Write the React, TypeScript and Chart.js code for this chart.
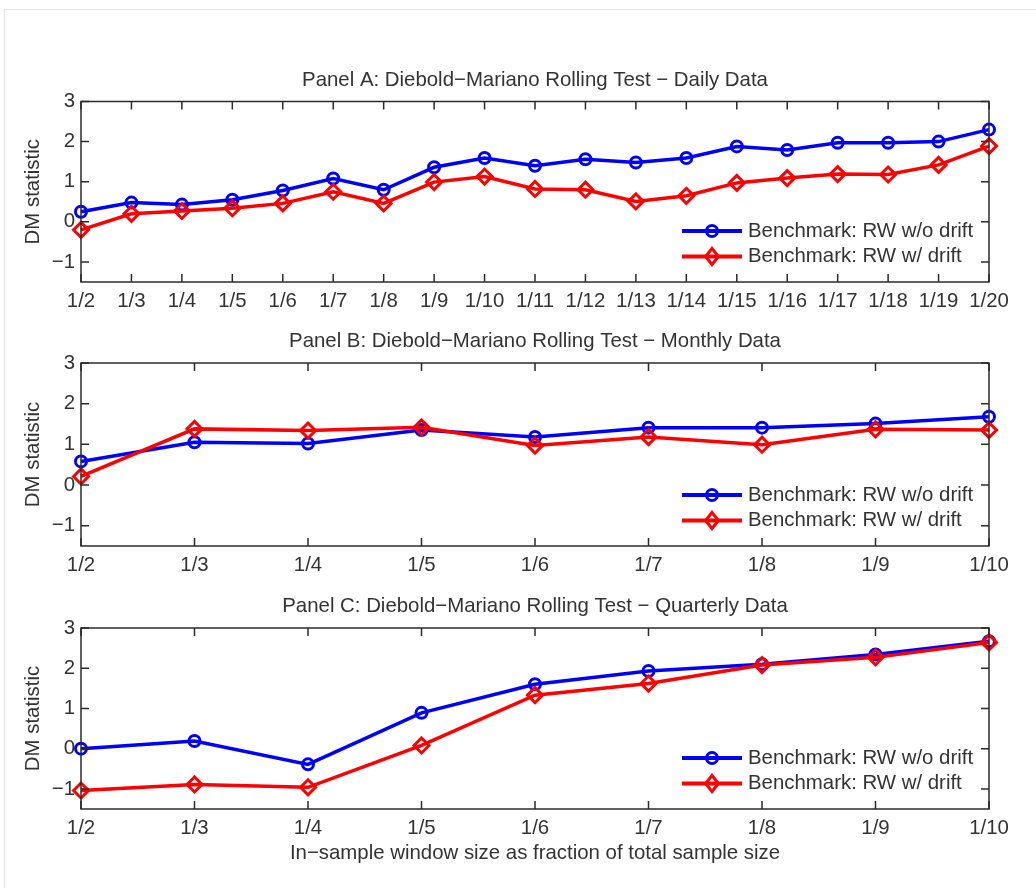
import React, { useEffect, useRef } from 'react';
import { Chart, registerables } from 'chart.js';

Chart.register(...registerables);

// ---------------- data ----------------
const Y_TICKS = [-1, 0, 1, 2, 3];
const Y_MIN = -1.5;
const Y_MAX = 3;

const SERIES_NAMES = ['Benchmark: RW w/o drift', 'Benchmark: RW w/ drift'];

const DAILY_LABELS = ['1/2', '1/3', '1/4', '1/5', '1/6', '1/7', '1/8', '1/9', '1/10', '1/11', '1/12', '1/13', '1/14', '1/15', '1/16', '1/17', '1/18', '1/19', '1/20'];
const DAILY_NO_DRIFT = [0.25, 0.48, 0.43, 0.55, 0.78, 1.08, 0.8, 1.36, 1.59, 1.4, 1.56, 1.48, 1.59, 1.88, 1.79, 1.97, 1.97, 2.0, 2.3];
const DAILY_DRIFT = [-0.2, 0.2, 0.27, 0.34, 0.46, 0.75, 0.46, 0.99, 1.13, 0.82, 0.8, 0.51, 0.65, 0.97, 1.09, 1.19, 1.18, 1.42, 1.89];

const MONTHLY_LABELS = ['1/2', '1/3', '1/4', '1/5', '1/6', '1/7', '1/8', '1/9', '1/10'];
const MONTHLY_NO_DRIFT = [0.58, 1.05, 1.02, 1.35, 1.18, 1.41, 1.41, 1.51, 1.68];
const MONTHLY_DRIFT = [0.21, 1.38, 1.34, 1.42, 0.97, 1.18, 0.99, 1.37, 1.35];

const QUARTERLY_LABELS = ['1/2', '1/3', '1/4', '1/5', '1/6', '1/7', '1/8', '1/9', '1/10'];
const QUARTERLY_NO_DRIFT = [0, 0.19, -0.39, 0.89, 1.6, 1.93, 2.1, 2.34, 2.67];
const QUARTERLY_DRIFT = [-1.04, -0.89, -0.96, 0.08, 1.33, 1.62, 2.08, 2.27, 2.64];

const TITLE_A = 'Panel A: Diebold\u2212Mariano Rolling Test \u2212 Daily Data';
const TITLE_B = 'Panel B: Diebold\u2212Mariano Rolling Test \u2212 Monthly Data';
const TITLE_C = 'Panel C: Diebold\u2212Mariano Rolling Test \u2212 Quarterly Data';
const Y_TITLE = 'DM statistic';
const X_TITLE = 'In\u2212sample window size as fraction of total sample size';

// ---------------- style ----------------
const FONT = "'Liberation Sans', Arial, Helvetica, sans-serif";
const FONT_SIZE = 20.4;
const TEXT = '#333333';
const AXIS = '#2b2b2b';
const BLUE = '#0000ff';
const RED = '#ff0000';
const W = 1036;

function drawMarker(ctx: CanvasRenderingContext2D, style: string, cx: number, cy: number, r: number) {
  ctx.beginPath();
  if (style === 'circle') {
    ctx.arc(cx, cy, r, 0, Math.PI * 2);
  } else {
    ctx.moveTo(cx, cy - r);
    ctx.lineTo(cx + r * 0.8, cy);
    ctx.lineTo(cx, cy + r);
    ctx.lineTo(cx - r * 0.8, cy);
    ctx.closePath();
  }
  ctx.stroke();
}

const matlabPlugin = {
  id: 'matlabAxes',
  afterDraw(chart: any) {
    const { ctx, chartArea } = chart;
    const { left, right, top, bottom } = chartArea;
    const xs = chart.scales.x;
    const ys = chart.scales.y;
    ctx.save();
    ctx.strokeStyle = AXIS;
    ctx.lineWidth = 1.5;
    ctx.strokeRect(left, top, right - left, bottom - top);
    const TL = 8;
    ctx.beginPath();
    xs.ticks.forEach((_t: any, i: number) => {
      const px = xs.getPixelForTick(i);
      ctx.moveTo(px, bottom);
      ctx.lineTo(px, bottom - TL);
      ctx.moveTo(px, top);
      ctx.lineTo(px, top + TL);
    });
    ys.ticks.forEach((t: any) => {
      const py = ys.getPixelForValue(t.value);
      ctx.moveTo(left, py);
      ctx.lineTo(left + TL, py);
      ctx.moveTo(right, py);
      ctx.lineTo(right - TL, py);
    });
    ctx.stroke();

    // legend (inside, lower right, no box)
    const rows = [bottom - 51, bottom - 25.5];
    chart.data.datasets.forEach((ds: any, i: number) => {
      const y = rows[i];
      const x1 = right - 307;
      const x2 = right - 247;
      const cx = right - 277;
      ctx.strokeStyle = ds.borderColor;
      ctx.lineWidth = 4;
      ctx.beginPath();
      ctx.moveTo(x1, y);
      ctx.lineTo(x2, y);
      ctx.stroke();
      ctx.lineWidth = ds.pointBorderWidth;
      drawMarker(ctx, ds.pointStyle, cx, y, ds.pointStyle === 'circle' ? ds.pointRadius : ds.pointRadius + 0.5);
      ctx.fillStyle = TEXT;
      ctx.font = `${FONT_SIZE}px ${FONT}`;
      ctx.textAlign = 'left';
      ctx.textBaseline = 'middle';
      ctx.fillText(ds.label, right - 241, y);
    });
    ctx.restore();
  },
};

type PanelProps = {
  labels: string[];
  noDrift: number[];
  drift: number[];
  title: string;
  canvasTop: number;
  canvasHeight: number;
  plotTop: number;
  plotBottom: number;
  xTitle?: string;
};

function Panel(p: PanelProps) {
  const ref = useRef<HTMLCanvasElement | null>(null);
  useEffect(() => {
    if (!ref.current) return;
    const titleMid = p.plotTop - 21.5;
    const font = { family: FONT, size: FONT_SIZE, weight: 'normal' as const, lineHeight: 1.2 };
    const titleLH = FONT_SIZE * 1.2;
    const xHeight = p.canvasTop + p.canvasHeight - p.plotBottom;
    const chart = new Chart(ref.current, {
      type: 'line',
      data: {
        labels: p.labels,
        datasets: [
          {
            label: SERIES_NAMES[0],
            data: p.noDrift,
            borderColor: BLUE,
            backgroundColor: 'rgba(0,0,0,0)',
            borderWidth: 3.5,
            pointStyle: 'circle',
            pointRadius: 5.5,
            pointBorderWidth: 3,
            pointBorderColor: BLUE,
            pointBackgroundColor: 'rgba(0,0,0,0)',
            tension: 0,
            clip: false as any,
            order: 1,
          } as any,
          {
            label: SERIES_NAMES[1],
            data: p.drift,
            borderColor: RED,
            backgroundColor: 'rgba(0,0,0,0)',
            borderWidth: 3.5,
            pointStyle: 'rectRot',
            pointRadius: 7.5,
            pointBorderWidth: 3,
            pointBorderColor: RED,
            pointBackgroundColor: 'rgba(0,0,0,0)',
            tension: 0,
            clip: false as any,
            order: 0,
          } as any,
        ],
      },
      options: {
        animation: false,
        responsive: true,
        maintainAspectRatio: false,
        events: [],
        layout: { padding: { left: 0, right: W - 989, top: 0, bottom: 0 } },
        plugins: {
          legend: { display: false },
          tooltip: { enabled: false },
          title: {
            display: true,
            text: p.title,
            fullSize: false,
            color: TEXT,
            font,
            padding: { top: titleMid - p.canvasTop - titleLH / 2, bottom: p.plotTop - titleMid - titleLH / 2 },
          },
        },
        scales: {
          x: {
            type: 'category',
            offset: false,
            grid: { display: false, drawTicks: false },
            border: { display: false },
            ticks: { color: TEXT, font, padding: 7, maxRotation: 0, autoSkip: false },
            title: p.xTitle
              ? { display: true, text: p.xTitle, color: TEXT, font, padding: { top: 0, bottom: 22 } }
              : { display: false },
            afterFit: (s: any) => {
              s.height = xHeight;
            },
          },
          y: {
            type: 'linear',
            min: Y_MIN,
            max: Y_MAX,
            grid: { display: false, drawTicks: false },
            border: { display: false },
            afterBuildTicks: (s: any) => {
              s.ticks = Y_TICKS.map((v) => ({ value: v }));
            },
            ticks: {
              color: TEXT,
              font,
              padding: 6,
              callback: (v: any) => (Number(v) < 0 ? '\u2212' + Math.abs(Number(v)) : String(v)),
            },
            title: { display: true, text: Y_TITLE, color: TEXT, font, padding: { top: 21, bottom: 0 } },
            afterFit: (s: any) => {
              s.width = 81;
            },
          },
        },
      } as any,
      plugins: [matlabPlugin],
    });
    return () => chart.destroy();
  }, []);
  return (
    <div style={{ position: 'absolute', left: 0, top: p.canvasTop, width: W, height: p.canvasHeight }}>
      <canvas ref={ref} />
    </div>
  );
}

export default function App() {
  return (
    <div style={{ position: 'absolute', left: 0, top: 0, width: W, height: 888, background: '#ffffff', overflow: 'hidden' }}>
      <div
        style={{
          position: 'absolute',
          left: 4,
          top: 9,
          right: 0,
          bottom: 0,
          borderTop: '1px solid #e4e4e4',
          borderLeft: '1px solid #e4e4e4',
        }}
      />
      <Panel labels={DAILY_LABELS} noDrift={DAILY_NO_DRIFT} drift={DAILY_DRIFT} title={TITLE_A} canvasTop={50} canvasHeight={280} plotTop={101.5} plotBottom={282} />
      <Panel labels={MONTHLY_LABELS} noDrift={MONTHLY_NO_DRIFT} drift={MONTHLY_DRIFT} title={TITLE_B} canvasTop={312} canvasHeight={280} plotTop={363} plotBottom={546} />
      <Panel labels={QUARTERLY_LABELS} noDrift={QUARTERLY_NO_DRIFT} drift={QUARTERLY_DRIFT} title={TITLE_C} canvasTop={576} canvasHeight={312} plotTop={628} plotBottom={809} xTitle={X_TITLE} />
    </div>
  );
}
